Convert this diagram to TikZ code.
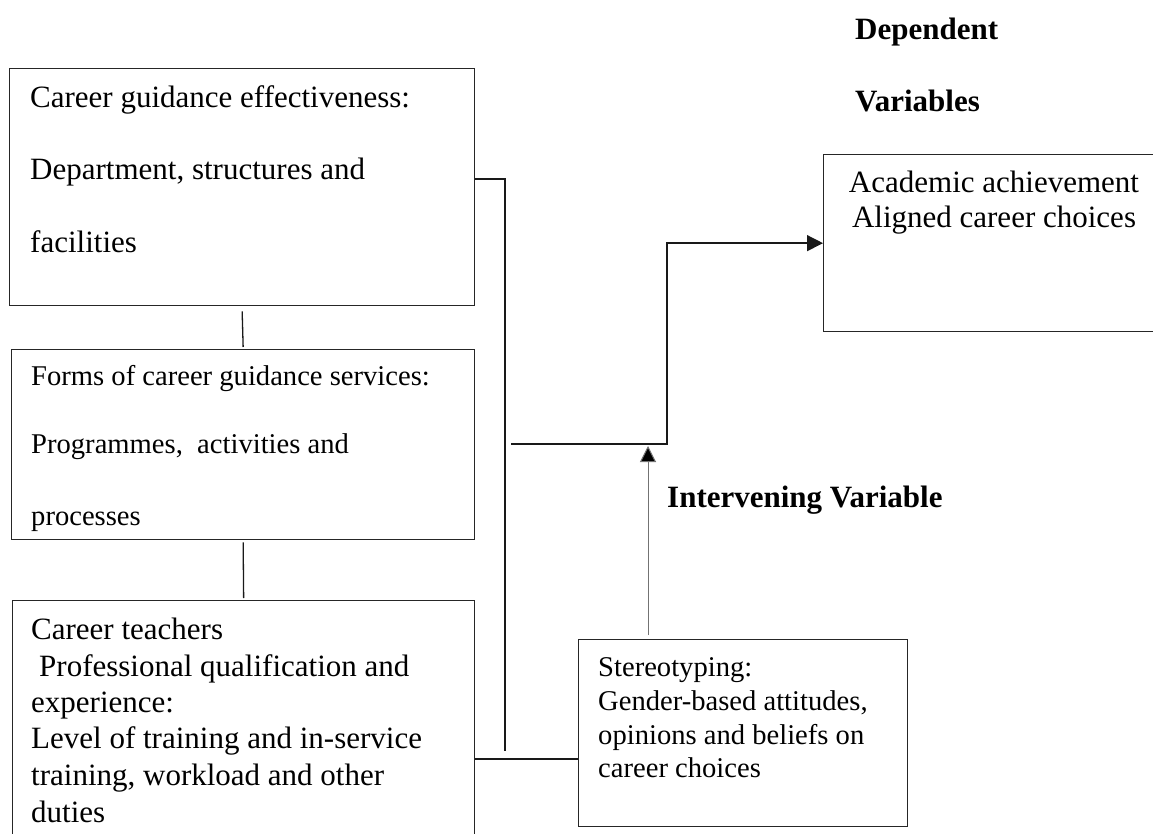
\documentclass[tikz,border=0pt]{standalone}
\usepackage{fontspec}
\setmainfont{Liberation Serif}
\usetikzlibrary{arrows.meta,calc}
\begin{document}
\begin{tikzpicture}[x=1pt,y=-1pt,
  box/.style={draw=black!85,line width=1.3pt,rectangle,inner sep=0pt,anchor=north west},
  bigtxt/.style={anchor=base west,inner sep=0pt,font=\fontsize{31}{36}\selectfont},
  smalltxt/.style={anchor=base west,inner sep=0pt,font=\fontsize{28.6}{33}\selectfont},
  headtxt/.style={anchor=base west,inner sep=0pt,font=\fontsize{31}{36}\selectfont\bfseries},
  conn/.style={line width=1.3pt,draw=black!90},
  arr/.style={conn,-{Triangle[length=16pt,width=16pt]}},
  thinarr/.style={line width=1pt,draw=black!55,-{Triangle[length=16pt,width=16pt,fill=black]}}
]
\useasboundingbox (0,0) rectangle (1153,834);
\clip (0,0) rectangle (1153,834);
\fill[white] (0,0) rectangle (1153,834);

% boxes
\node[box,minimum width=465pt,minimum height=237pt] (b1) at (9,68) {};
\node[box,minimum width=463pt,minimum height=190pt] (b2) at (11,349) {};
\node[box,minimum width=462pt,minimum height=260pt] (b3) at (12,600) {};
\node[box,minimum width=329pt,minimum height=187pt] (st) at (578,639) {};
\node[box,minimum width=342pt,minimum height=177pt] (dep) at (823,154) {};

% box 1 text
\node[bigtxt] (t1a) at (30,108) {Career guidance effectiveness:};
\node[bigtxt] (t1b) at (30,180) {Department, structures and};
\node[bigtxt] (t1c) at (30,253) {facilities};

% box 2 text
\node[smalltxt] (t2a) at (31,385) {Forms of career guidance services:};
\node[smalltxt] (t2b) at (31,453) {Programmes,\ \ activities and};
\node[smalltxt] (t2c) at (31,525) {processes};

% box 3 text
\node[bigtxt] (t3a) at (31,639) {Career teachers};
\node[bigtxt] (t3b) at (39,676) {Professional qualification and};
\node[bigtxt] (t3c) at (31,712) {experience:};
\node[bigtxt] (t3d) at (31,748) {Level of training and in-service};
\node[bigtxt] (t3e) at (31,785) {training, workload and other};
\node[bigtxt] (t3f) at (31,822) {duties};

% stereotyping text
\node[smalltxt] (s1) at (598,676) {Stereotyping:};
\node[smalltxt] (s2) at (598,710) {Gender-based attitudes,};
\node[smalltxt] (s3) at (598,744) {opinions and beliefs on};
\node[smalltxt] (s4) at (598,777) {career choices};

% dependent box text
\node[anchor=base,inner sep=0pt,font=\fontsize{31}{36}\selectfont] (d1) at (994,193) {Academic achievement};
\node[anchor=base,inner sep=0pt,font=\fontsize{31}{36}\selectfont] (d2) at (994,228) {Aligned career choices};

% headings
\node[headtxt] (h1) at (855,40) {Dependent};
\node[headtxt] (h2) at (855,112) {Variables};
\node[headtxt] (h3) at (667,507) {Intervening Variable};

% connector coordinates
\coordinate (vtop) at (505,179);
\coordinate (vbot) at (505,751);
\coordinate (hb3) at (520,759);
\coordinate (m1) at (511,444);
\coordinate (m2) at (667,444);
\coordinate (ua) at (648,635);
\coordinate (ub) at (648,446);

% connectors
\draw[conn] ([yshift=-5pt]b1.south) -- ([yshift=2pt]b2.north);
\draw[conn] ([yshift=-2pt]b2.south) -- ([yshift=2pt]b3.north);
\draw[conn] (b1.east |- vtop) -- (vtop) -- (vbot);
\draw[conn] (b3.east |- hb3) -- (st.west |- hb3);
\draw[arr] (m1) -- (m2) |- (dep.west);
\draw[thinarr] (ua) -- (ub);
\end{tikzpicture}
\end{document}
